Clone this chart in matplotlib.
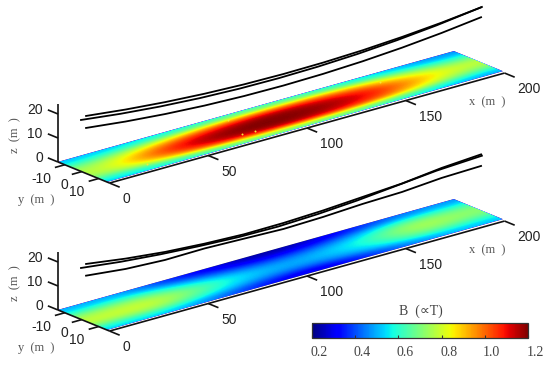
import numpy as np
import matplotlib
matplotlib.use("Agg")
import matplotlib.pyplot as plt
from matplotlib.cm import ScalarMappable
from matplotlib.colors import Normalize
from matplotlib.transforms import Affine2D, ScaledTranslation

# field grid, B (rows = x stations 0..200, columns = y -14..15)
b_top = [
    [0.52, 0.62, 0.72, 0.76, 0.76, 0.68, 0.54],
    [0.54, 0.72, 0.88, 0.98, 0.98, 0.85, 0.58],
    [0.58, 0.84, 1.04, 1.14, 1.14, 1.02, 0.62],
    [0.62, 0.95, 1.14, 1.20, 1.20, 1.12, 0.68],
    [0.64, 0.98, 1.18, 1.20, 1.20, 1.15, 0.68],
    [0.62, 0.95, 1.12, 1.18, 1.17, 1.10, 0.66],
    [0.58, 0.85, 1.02, 1.10, 1.08, 0.98, 0.62],
    [0.52, 0.70, 0.85, 0.92, 0.90, 0.80, 0.55],
    [0.47, 0.58, 0.70, 0.78, 0.75, 0.65, 0.50],
]
b_bottom = [
    [0.50, 0.60, 0.72, 0.78, 0.78, 0.68, 0.54],
    [0.50, 0.62, 0.74, 0.80, 0.80, 0.72, 0.54],
    [0.36, 0.48, 0.60, 0.68, 0.66, 0.58, 0.45],
    [0.30, 0.38, 0.48, 0.54, 0.52, 0.46, 0.36],
    [0.22, 0.32, 0.42, 0.48, 0.48, 0.40, 0.28],
    [0.26, 0.36, 0.46, 0.51, 0.50, 0.44, 0.32],
    [0.34, 0.46, 0.55, 0.60, 0.58, 0.53, 0.42],
    [0.44, 0.60, 0.74, 0.78, 0.75, 0.66, 0.50],
    [0.48, 0.58, 0.68, 0.72, 0.70, 0.62, 0.52],
]

# hot specks in the upper map
speck_x = [82, 76, 82.4, 25.3, 156]
speck_y = [-9.5, 5.9, 6.3, 9, -6]

# conductors
wire_y = [2.6, -0.4, 2.6]
wire_x = [
    [0, 20, 40, 60, 80, 100, 120, 140, 160, 180, 200],
    [0, 20, 40, 60, 80, 100, 120, 140, 160, 180, 203],
    [0, 20, 40, 60, 80, 100, 120, 140, 160, 180, 200],
]
wire_z_top = [
    [23.96, 22.05, 20.55, 19.47, 18.79, 18.53, 18.68, 19.23, 20.21, 21.58, 23.38],
    [21.42, 19.41, 17.85, 16.75, 16.09, 15.89, 16.14, 16.83, 17.99, 19.58, 21.99],
    [18.96, 17.05, 15.58, 14.53, 13.92, 13.73, 13.98, 14.65, 15.75, 17.29, 19.26],
]
wire_z_bottom = [
    [23.96, 21.6, 19.8, 18.67, 18.0, 18.13, 18.75, 19.79, 20.83, 22.7, 23.79],
    [21.42, 19.4, 17.9, 16.8, 16.0, 15.8, 16.4, 17.5, 19.1, 20.7, 21.67],
    [19.08, 17.29, 16.46, 16.67, 16.17, 15.63, 16.04, 16.88, 17.29, 18.54, 18.96],
]

x_ticks = [0, 50, 100, 150, 200]
y_ticks = [-10, 0, 10]
z_ticks = [0, 10, 20]
cbar_ticks = [0.2, 0.4, 0.6, 0.8, 1.0, 1.2]


def project(x, y, z, dy):
    # fixed oblique view, returns figure pixels
    x = np.asarray(x, dtype=float)
    u = np.asarray(y, dtype=float) + 14
    z = np.asarray(z, dtype=float)
    return 58 + 1.975 * x + 1.69 * u, 162 - 0.55 * x + 0.69 * u - 2.4 * z + dy


def draw_panel(ax, field, wires_z, dy, specks=False):
    view = Affine2D.from_values(1.975, -0.55, 1.69, 0.69, 58 + 1.69 * 14, 162 + 0.69 * 14 + dy)
    ax.imshow(np.array(field).T, origin="lower", extent=(0, 200, -14, 15), aspect="auto",
              cmap="jet", vmin=0.2, vmax=1.2, interpolation="bicubic", interpolation_stage="data",
              transform=view + ax.transData, zorder=1)
    if specks:
        sx, sy = project(speck_x, speck_y, [0] * len(speck_x), dy)
        ax.scatter(sx, sy, s=2, color="#f5e83a", linewidths=0, zorder=2)

    for xs, ys, zs in zip(wire_x, wire_y, wires_z):
        wx, wy = project(xs, [ys] * len(xs), zs, dy)
        ax.plot(wx, wy, color="black", lw=1.3, zorder=3)

    line = dict(color="#111111", lw=1.2, zorder=3, solid_capstyle="butt")
    edge = 16.5
    # axis lines
    ax.plot(*project([0, 0], [-14, edge], [0, 0], dy), **line)
    ax.plot(*project([0, 200], [edge, edge], [0, 0], dy), **line)
    ax.plot(*project([0, 0], [-14, -14], [0, 24.2], dy), **line)

    for t in x_ticks:
        ax.plot(*project([t, t], [edge, edge + 6], [0, 0], dy), **line)
        lx, ly = project(t, edge + 6, 0, dy)
        ax.text(lx + 3, ly + 12, str(t), ha="left", va="center", fontsize=10, color="#222222")
    for t in y_ticks:
        ax.plot(*project([0, -5], [t, t], [0, 0], dy), **line)
        lx, ly = project(-5, t, 0, dy)
        ax.text(lx - 4, ly + 11, str(t), ha="right", va="center", fontsize=10, color="#222222")
    for t in z_ticks:
        ax.plot(*project([0, 0], [-14, -20], [t, t], dy), **line)
        lx, ly = project(0, -20, t, dy)
        ax.text(lx - 5, ly, str(t), ha="right", va="center", fontsize=10, color="#222222")

    label = dict(fontsize=9, color="#555555", family="Liberation Serif", ha="center", va="center")
    ax.text(487, 102 + dy, "x  (m  )", **label)
    ax.text(36, 200 + dy, "y  (m  )", **label)
    ax.text(15, 135 + dy, "z  (m  )", rotation=90, **label)


plt.rcParams["font.family"] = ["Liberation Sans", "DejaVu Sans"]
fig = plt.figure(figsize=(5.5, 3.68), dpi=100)
ax = fig.add_axes([0, 0, 1, 1])

draw_panel(ax, b_top, wire_z_top, 0, specks=True)
draw_panel(ax, b_bottom, wire_z_bottom, 148)
ax.set_xlim(0, 550)
ax.set_ylim(368, 0)
ax.set_axis_off()

# colour bar
cax = fig.add_axes([312 / 550, 1 - 338 / 368, 216 / 550, 15 / 368])
sm = ScalarMappable(norm=Normalize(0.2, 1.2), cmap="jet")
cbar = fig.colorbar(sm, cax=cax, orientation="horizontal", ticks=cbar_ticks)
cbar.outline.set_edgecolor("#333333")
cbar.outline.set_linewidth(0.9)
cax.tick_params(axis="x", direction="in", length=2.5, width=0.8, color="#333333", pad=6)
cax.set_xticklabels([f"{t:.1f}" for t in cbar_ticks], family="Liberation Serif", fontsize=10, color="#444444")
shift = ScaledTranslation(7 / 100, 0, fig.dpi_scale_trans)
for lab in cax.get_xticklabels():
    lab.set_transform(lab.get_transform() + shift)
ax.text(421, 311, "B  (∝T)", ha="center", va="center", fontsize=10, color="#444444",
        family=["Liberation Serif", "DejaVu Sans"])

fig.savefig("out.png", dpi=100)
